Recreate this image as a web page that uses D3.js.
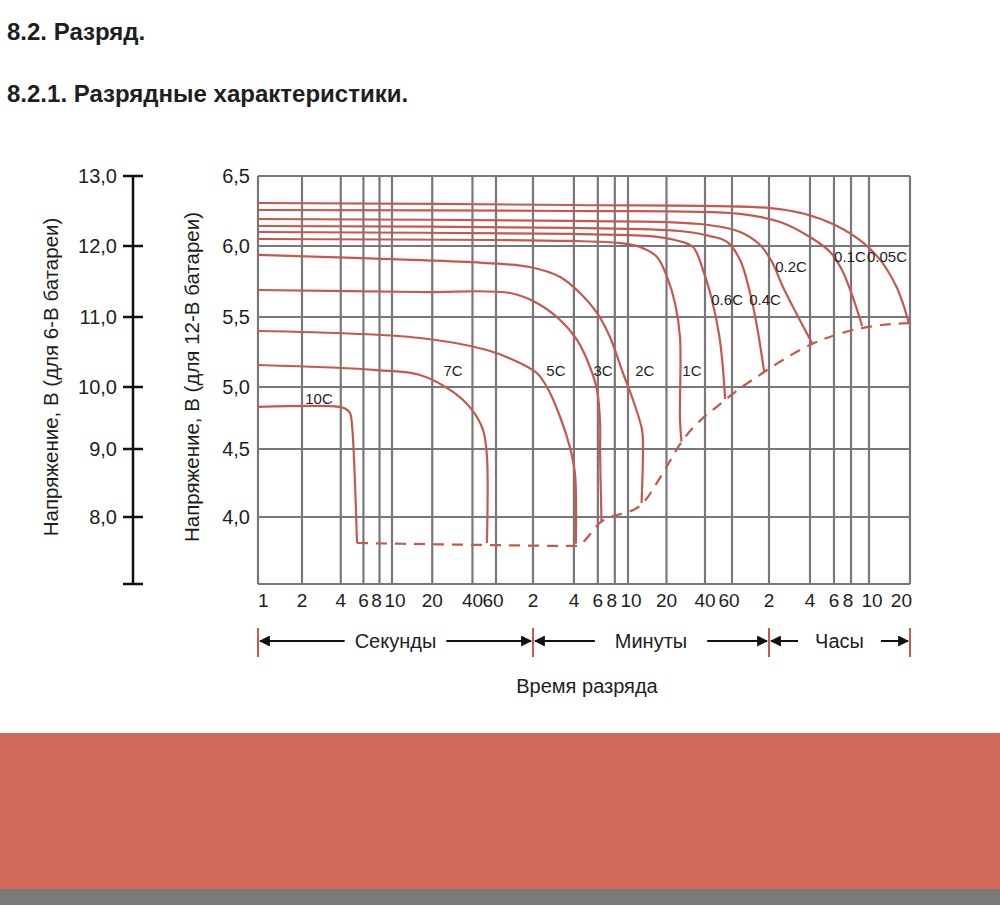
<!DOCTYPE html>
<html><head><meta charset="utf-8">
<script src="https://cdn.jsdelivr.net/npm/d3@7"></script>
<style>
body{margin:0;background:#fff;}
svg{display:block;font-family:"Liberation Sans",Arial,Helvetica,sans-serif;}
</style>
</head><body>
<svg id="c" width="1000" height="905"></svg>
<script>
// ---------- DATA ----------
// time in seconds, voltage in volts (12-V scale on the right axis)
const s10C  = [[1,4.84],[3.88,4.84],[4.39,4.823],[4.72,4.79],[4.89,4.694],[5.35,3.806]];
const s7C   = [[1,5.157],[7.64,5.121],[16.2,5.086],[28.6,4.96],[39.7,4.815],[48,4.653],[51.3,4.449],[51.3,3.806]];
const s5C   = [[1,5.40],[16.2,5.35],[51.3,5.264],[94,5.171],[128,5.10],[152,5.0],[190,4.758],[224,4.516],[244,4.324],[248,3.80]];
const s3C   = [[1,5.69],[16.2,5.676],[78,5.669],[128,5.599],[190,5.479],[253,5.336],[315,5.143],[355,4.976],[374,4.71],[374,4.47],[383,3.963]];
const s2C   = [[1,5.937],[16.2,5.901],[51.3,5.88],[113,5.852],[190,5.782],[266,5.669],[355,5.529],[442,5.357],[551,5.1],[657,4.895],[773,4.653],[786,4.516],[766,4.103]];
const s1C   = [[1,6.05],[224,6.036],[524,6.021],[744,5.993],[1011,5.923],[1211,5.782],[1398,5.599],[1530,5.357],[1530,4.734],[1572,4.56]];
const s06C  = [[1,6.1],[224,6.086],[892,6.071],[1398,6.043],[1932,5.993],[2315,5.831],[2665,5.62],[2969,5.371],[3138,5.143],[3246,4.903]];
const s04C  = [[1,6.143],[224,6.129],[1530,6.107],[2592,6.071],[3346,6.029],[4191,5.901],[5049,5.669],[5759,5.429],[6567,5.114]];
const s02C  = [[1,6.193],[224,6.179],[2195,6.157],[4191,6.1],[6092,6.007],[7576,5.887],[9118,5.711],[11390,5.528],[14900,5.314]];
const s01C  = [[1,6.257],[224,6.25],[4191,6.229],[8682,6.171],[14370,6.064],[20230,5.958],[24730,5.831],[29160,5.655],[33060,5.436]];
const s005C = [[1,6.307],[224,6.293],[7322,6.271],[13240,6.229],[21990,6.15],[33060,6.029],[44760,5.887],[57800,5.704],[66250,5.549],[70900,5.45]];
const cutoff = [[5.35,3.806],[51.3,3.791],[248,3.784],[380,3.963],[758,4.088],[1067,4.287],[1572,4.556],[3246,4.895],[6567,5.107],[14900,5.307],[33060,5.421],[70900,5.457]];

const seriesList = [s10C,s7C,s5C,s3C,s2C,s1C,s06C,s04C,s02C,s01C,s005C];
// curve label anchors: [name, time s, voltage]
const curveLabels = [["10C",2.71,4.863],["7C",28.6,5.079],["5C",177,5.079],["3C",393,5.079],["2C",812,5.079],["1C",1898,5.079],
  ["0.6C",3346,5.585],["0.4C",6689,5.585],["0.2C",10443,5.817],["0.1C",28300,5.887],["0.05C",48800,5.887]];

const xTicks = [1,2,4,6,8,10,20,40,60,120,240,360,480,600,1200,2400,3600,7200,14400,21600,28800,36000,72000];
const xTickLabels = ["1","2","4","6","8","10","20","40","60","2","4","6","8","10","20","40","60","2","4","6","8","10","20"];
const yTicksRight = [4.0,4.5,5.0,5.5,6.0,6.5];
const yGrid = [3.5,4.0,4.5,5.0,5.5,6.0,6.5];
const yTicksLeft = [7,8,9,10,11,12,13];
const yLabelsLeft = [8,9,10,11,12,13];
const sections = [["Секунды",1,120],["Минуты",120,7200],["Часы",7200,72000]];

// ---------- CHART ----------
const svg = d3.select("#c");
const x = d3.scaleLog()
  .domain([1,2,10,60,120,600,2400,3600,7200,28800,36000,72000])
  .range([258,302,392,496,533,628,705,732,769,851,869,910]);
const y = d3.scaleLinear().domain([3.5,4,4.5,5,5.5,6,6.5]).range([584,517,449,387,317,246,176]);
const yL = d3.scaleLinear().domain([7,8,9,10,11,12,13]).range(y.range());
const fmt = d3.formatLocale({decimal:",",thousands:" ",grouping:[3],currency:["",""]}).format(".1f");

const RED = "#C9574C", GRID = "#787878", TXT = "#1e1e1e";

// headings
svg.append("text").attr("x",7).attr("y",40).attr("font-size",24).attr("font-weight","bold").attr("fill",TXT).text("8.2. Разряд.");
svg.append("text").attr("x",7).attr("y",102).attr("font-size",24).attr("font-weight","bold").attr("fill",TXT).text("8.2.1. Разрядные характеристики.");

// bottom band
svg.append("rect").attr("x",0).attr("y",733).attr("width",1000).attr("height",156).attr("fill","#D1695A");
svg.append("rect").attr("x",0).attr("y",889).attr("width",1000).attr("height",16).attr("fill","#7B7B7B");

// grid
const g = svg.append("g");
g.selectAll("line.vx").data(xTicks).join("line")
  .attr("x1",d=>x(d)).attr("x2",d=>x(d)).attr("y1",y(3.5)).attr("y2",y(6.5))
  .attr("stroke",GRID).attr("stroke-width",2.2);
g.selectAll("line.hy").data(yGrid).join("line")
  .attr("x1",x(1)).attr("x2",x(72000)).attr("y1",d=>y(d)).attr("y2",d=>y(d))
  .attr("stroke",GRID).attr("stroke-width",2.2);

// x tick labels (tight pairs nudged apart, end labels kept inside the frame)
const nudge = {"8":-3,"10":3,"60":-3};
svg.selectAll("text.xl").data(xTicks).join("text")
  .attr("x",d=>x(d)).attr("y",607).attr("font-size",19).attr("fill",TXT)
  .attr("text-anchor",(d,i)=> i===0 ? "start" : (i===xTicks.length-1 ? "end" : "middle"))
  .attr("dx",(d,i)=> i===xTicks.length-1 ? 2 : (i===0 ? 0 : (nudge[xTickLabels[i]]||0)))
  .text((d,i)=>xTickLabels[i]);

// right (12-V) y labels
svg.selectAll("text.yr").data(yTicksRight).join("text")
  .attr("x",250).attr("y",d=>y(d)+7).attr("text-anchor","end").attr("font-size",20).attr("fill",TXT)
  .text(d=>fmt(d));

// left (6-V) axis
const axX = 133;
svg.append("line").attr("x1",axX).attr("x2",axX).attr("y1",yL(7)).attr("y2",yL(13)).attr("stroke","#111").attr("stroke-width",2.5);
svg.selectAll("line.tl").data(yTicksLeft).join("line")
  .attr("x1",axX-10).attr("x2",axX+10).attr("y1",d=>yL(d)).attr("y2",d=>yL(d)).attr("stroke","#111").attr("stroke-width",2.5);
svg.selectAll("text.yl").data(yLabelsLeft).join("text")
  .attr("x",117).attr("y",d=>yL(d)+7).attr("text-anchor","end").attr("font-size",20).attr("fill",TXT)
  .text(d=>fmt(d));

// axis titles
svg.append("text").attr("transform","translate(51,377) rotate(-90)").attr("text-anchor","middle").attr("dy","0.35em")
  .attr("font-size",20.5).attr("fill",TXT).text("Напряжение, В (для 6-В батареи)");
svg.append("text").attr("transform","translate(192,377) rotate(-90)").attr("text-anchor","middle").attr("dy","0.35em")
  .attr("font-size",20.5).attr("fill",TXT).text("Напряжение, В (для 12-В батареи)");

// curves
const line = d3.line().x(d=>x(d[0])).y(d=>y(d[1])).curve(d3.curveCatmullRom.alpha(0.5));
svg.append("g").selectAll("path").data(seriesList).join("path")
  .attr("d",line).attr("fill","none").attr("stroke",RED).attr("stroke-width",2.2);
const dline = d3.line().x(d=>x(d[0])).y(d=>y(d[1])).curve(d3.curveMonotoneX);
svg.append("path").attr("d",dline(cutoff)).attr("fill","none").attr("stroke",RED).attr("stroke-width",2.2)
  .attr("stroke-dasharray","11,8");

// curve labels
svg.selectAll("text.cl").data(curveLabels).join("text")
  .attr("x",d=>x(d[1])).attr("y",d=>y(d[2])).attr("text-anchor","middle").attr("font-size",15).attr("fill",TXT)
  .text(d=>d[0]);

// sections row
const defs = svg.append("defs");
defs.append("marker").attr("id","ah").attr("viewBox","0 0 10 10").attr("refX",9).attr("refY",5)
  .attr("markerWidth",11).attr("markerHeight",11).attr("markerUnits","userSpaceOnUse").attr("orient","auto")
  .append("path").attr("d","M0,0L10,5L0,10Z").attr("fill","#111");
const rowY = 641;
[1,120,7200,72000].forEach(t=>{
  svg.append("line").attr("x1",x(t)).attr("x2",x(t)).attr("y1",628).attr("y2",657).attr("stroke","#D0574C").attr("stroke-width",2);
});
const gaps = [10,20,17];
sections.forEach((s,i)=>{
  const x0 = x(s[1]), x1 = x(s[2]);
  const cx = (x0+x1)/2;
  const t = svg.append("text").attr("x",cx).attr("y",rowY+7).attr("text-anchor","middle").attr("font-size",20).attr("fill",TXT).text(s[0]);
  const w = t.node().getComputedTextLength();
  svg.append("line").attr("x1",cx-w/2-gaps[i]).attr("x2",x0+2).attr("y1",rowY).attr("y2",rowY)
    .attr("stroke","#111").attr("stroke-width",2).attr("marker-end","url(#ah)");
  svg.append("line").attr("x1",cx+w/2+gaps[i]).attr("x2",x1-2).attr("y1",rowY).attr("y2",rowY)
    .attr("stroke","#111").attr("stroke-width",2).attr("marker-end","url(#ah)");
});
svg.append("text").attr("x",587).attr("y",693).attr("text-anchor","middle").attr("font-size",20).attr("fill",TXT).text("Время разряда");
</script>
</body></html>
